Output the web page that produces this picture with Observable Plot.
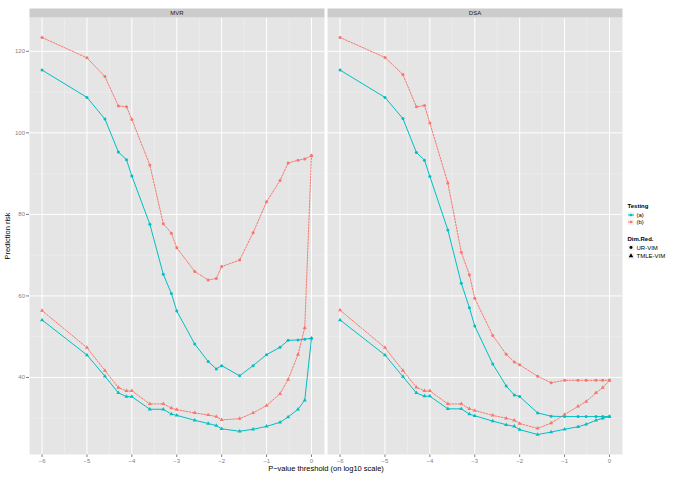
<!DOCTYPE html>
<html><head><meta charset="utf-8">
<script src="https://cdn.jsdelivr.net/npm/d3@7"></script>
<script src="https://cdn.jsdelivr.net/npm/@observablehq/plot@0.6"></script>
<style>
body{margin:0;background:#fff;}
#chart{position:relative;width:685px;height:477px;}
svg{font-family:"Liberation Sans",Arial,Helvetica,sans-serif;}
</style>
</head><body><div id="chart"></div>
<script>
// ---- data ----
const methods = ["MVR", "DSA"];
const testingLevels = ["(a)", "(b)"];
const dimRedLevels = ["UR-VIM", "TMLE-VIM"];
const xTicks = [-6, -5, -4, -3, -2, -1, 0];
const yTicks = [40, 60, 80, 100, 120];
const xMinor = [-5.5, -4.5, -3.5, -2.5, -1.5, -0.5];
const yMinor = [30, 50, 70, 90, 110];

// P-value thresholds on log10 scale
const logP = [-6, -5, -4.6, -4.3, -4.12, -4, -3.6, -3.3, -3.12, -3, -2.6, -2.3, -2.12, -2, -1.6, -1.3, -1, -0.7, -0.52, -0.3, -0.15, 0];

const mvrA_UR   = [115.4,108.7,103.4,95.3,93.4,89.4,77.6,65.3,60.6,56.3,48.2,43.9,42.1,42.9,40.4,42.9,45.6,47.4,49.1,49.2,49.4,49.6];
const mvrB_UR   = [123.4,118.4,113.8,106.6,106.4,103.3,92.1,77.7,75.4,71.8,66.0,63.9,64.3,67.2,68.8,75.5,83.1,88.3,92.6,93.3,93.6,94.4];
const mvrA_TMLE = [54.1,45.5,40.3,36.2,35.3,35.3,32.2,32.2,31.0,30.7,29.5,28.7,28.2,27.4,26.8,27.3,28.0,29.0,30.3,32.2,34.4,49.6];
const mvrB_TMLE = [56.4,47.3,41.7,37.5,36.7,36.7,33.5,33.5,32.5,32.1,31.3,30.8,30.4,29.6,29.9,31.3,33.1,36.0,39.5,45.6,52.2,94.4];
const dsaA_UR   = [115.4,108.7,103.5,95.2,93.3,89.3,76.2,63.1,57.1,52.6,43.3,37.9,35.7,35.3,31.3,30.5,30.4,30.4,30.4,30.4,30.4,30.4];
const dsaB_UR   = [123.4,118.5,114.3,106.4,106.7,102.4,87.7,70.7,65.2,59.4,50.3,45.7,43.8,43.1,40.3,38.7,39.3,39.3,39.3,39.3,39.3,39.3];
const dsaA_TMLE = [54.1,45.5,40.2,36.2,35.4,35.4,32.3,32.3,31.0,30.6,29.3,28.4,28.0,27.2,26.0,26.6,27.3,27.9,28.5,29.5,30.0,30.4];
const dsaB_TMLE = [56.5,47.3,41.7,37.6,36.7,36.7,33.5,33.5,32.3,31.9,30.7,30.0,29.5,28.7,27.5,28.8,30.9,32.9,34.1,36.2,37.5,39.3];

const seriesList = [
  ["MVR", "(a)", "UR-VIM", mvrA_UR],
  ["MVR", "(b)", "UR-VIM", mvrB_UR],
  ["MVR", "(a)", "TMLE-VIM", mvrA_TMLE],
  ["MVR", "(b)", "TMLE-VIM", mvrB_TMLE],
  ["DSA", "(a)", "UR-VIM", dsaA_UR],
  ["DSA", "(b)", "UR-VIM", dsaB_UR],
  ["DSA", "(a)", "TMLE-VIM", dsaA_TMLE],
  ["DSA", "(b)", "TMLE-VIM", dsaB_TMLE]
];

const rows = [];
for (const [method, testing, dimred, vals] of seriesList) {
  logP.forEach((x, i) => rows.push({method, testing, dimred, x, y: vals[i]}));
}

const teal = "#00BFC4", orange = "#F8766D";

const chart = Plot.plot({
  width: 685, height: 477,
  marginLeft: 29, marginRight: 62.3, marginTop: 17, marginBottom: 23,
  style: {fontFamily: "Liberation Sans, Arial, sans-serif", fontSize: "6px", color: "#7F7F7F", background: "white", overflow: "visible"},
  facet: {data: rows, x: "method", marginTop: 0, marginRight: 0, marginBottom: 0, marginLeft: 0},
  fx: {domain: methods, paddingInner: 0.009, paddingOuter: 0, axis: null},
  x: {domain: [-6.28, 0.29], ticks: xTicks, tickFormat: d3.format("d"), tickSize: 3, tickPadding: 1.5, label: null},
  y: {domain: [21.1, 128.3], ticks: yTicks, tickFormat: d3.format("d"), tickSize: 3, tickPadding: 1.5, label: null},
  color: {domain: testingLevels, range: [teal, orange]},
  marks: [
    Plot.frame({fill: "#E5E5E5", stroke: "none"}),
    Plot.ruleX(xMinor, {stroke: "#F2F2F2", strokeWidth: 0.5}),
    Plot.ruleY(yMinor, {stroke: "#F2F2F2", strokeWidth: 0.5}),
    Plot.ruleX(xTicks, {stroke: "white", strokeWidth: 1}),
    Plot.ruleY(yTicks, {stroke: "white", strokeWidth: 1}),
    Plot.line(rows, {filter: d => d.testing === "(a)", x: "x", y: "y", z: "dimred", stroke: teal, strokeWidth: 1}),
    Plot.line(rows, {filter: d => d.testing === "(b)", x: "x", y: "y", z: "dimred", stroke: orange, strokeWidth: 1, strokeDasharray: "1.6,1.4"}),
    Plot.dot(rows, {filter: d => d.dimred === "UR-VIM", x: "x", y: "y", fill: "testing", r: 1.5, symbol: "circle"}),
    Plot.dot(rows, {filter: d => d.dimred === "TMLE-VIM", x: "x", y: "y", fill: "testing", r: 1.5, symbol: "triangle"})
  ]
});

document.getElementById("chart").appendChild(chart);

// ---- strips, axis titles and legend (ggplot-style decorations) ----
const svg = d3.select(chart);
const sb = chart.getBoundingClientRect();
let frameEls = Array.from(chart.querySelectorAll('[aria-label="frame"]'))
  .flatMap(el => el.tagName.toLowerCase() === "rect" ? [el] : Array.from(el.querySelectorAll("rect")));
const boxes = frameEls.map(el => {
  const b = el.getBoundingClientRect();
  return {x: b.left - sb.left, y: b.top - sb.top, w: b.width, h: b.height};
}).sort((a, b) => a.x - b.x);

const deco = svg.append("g").attr("text-anchor", "start");
boxes.forEach((b, i) => {
  deco.append("rect").attr("x", b.x).attr("y", b.y - 9).attr("width", b.w).attr("height", 9).attr("fill", "#CCCCCC");
  deco.append("text").attr("x", b.x + b.w / 2).attr("y", b.y - 4.5).attr("dy", "0.35em")
    .attr("text-anchor", "middle").attr("font-size", 6).attr("fill", "#1A1A1A").text(methods[i]);
});
if (boxes.length) {
  const left = boxes[0].x, right = boxes[boxes.length - 1].x + boxes[boxes.length - 1].w;
  const top = boxes[0].y, bottom = boxes[0].y + boxes[0].h;
  deco.append("text").attr("x", (left + right) / 2).attr("y", bottom + 16.5)
    .attr("text-anchor", "middle").attr("font-size", 7.5).attr("fill", "#000").text("P\u2212value threshold (on log10 scale)");
  deco.append("text").attr("transform", `translate(9.5,${(top + bottom) / 2}) rotate(-90)`)
    .attr("text-anchor", "middle").attr("font-size", 7.5).attr("fill", "#000").text("Prediction risk");
}

// legend
const lg = svg.append("g").attr("transform", "translate(627.5,0)").attr("text-anchor", "start");
lg.append("text").attr("x", 0).attr("y", 207.5).attr("text-anchor", "start").attr("font-size", 6).attr("font-weight", "bold").attr("fill", "#000").text("Testing");
[["(a)", teal, null, 215], ["(b)", orange, "1.6,1.4", 222]].forEach(([lab, col, dash, cy]) => {
  lg.append("rect").attr("x", 0).attr("y", cy - 3.5).attr("width", 7).attr("height", 7).attr("fill", "#F2F2F2").attr("stroke", "white").attr("stroke-width", 0.5);
  const ln = lg.append("line").attr("x1", 0.5).attr("x2", 6.5).attr("y1", cy).attr("y2", cy).attr("stroke", col).attr("stroke-width", 1);
  if (dash) ln.attr("stroke-dasharray", dash);
  lg.append("circle").attr("cx", 3.5).attr("cy", cy).attr("r", 1.3).attr("fill", col);
  lg.append("text").attr("x", 9).attr("y", cy).attr("dy", "0.35em").attr("text-anchor", "start").attr("font-size", 6).attr("fill", "#000").text(lab);
});
lg.append("text").attr("x", 0).attr("y", 240.5).attr("text-anchor", "start").attr("font-size", 6).attr("font-weight", "bold").attr("fill", "#000").text("Dim.Red.");
[["UR-VIM", d3.symbolCircle, 247.5, 7], ["TMLE-VIM", d3.symbolTriangle, 256, 9]].forEach(([lab, sym, cy, size]) => {
  lg.append("rect").attr("x", 0).attr("y", cy - 3.5).attr("width", 7).attr("height", 7).attr("fill", "#F2F2F2").attr("stroke", "white").attr("stroke-width", 0.5);
  lg.append("path").attr("transform", `translate(3.5,${cy})`).attr("d", d3.symbol(sym, size)()).attr("fill", "#000");
  lg.append("text").attr("x", 9).attr("y", cy).attr("dy", "0.35em").attr("text-anchor", "start").attr("font-size", 6).attr("fill", "#000").text(lab);
});
</script>
</body></html>
